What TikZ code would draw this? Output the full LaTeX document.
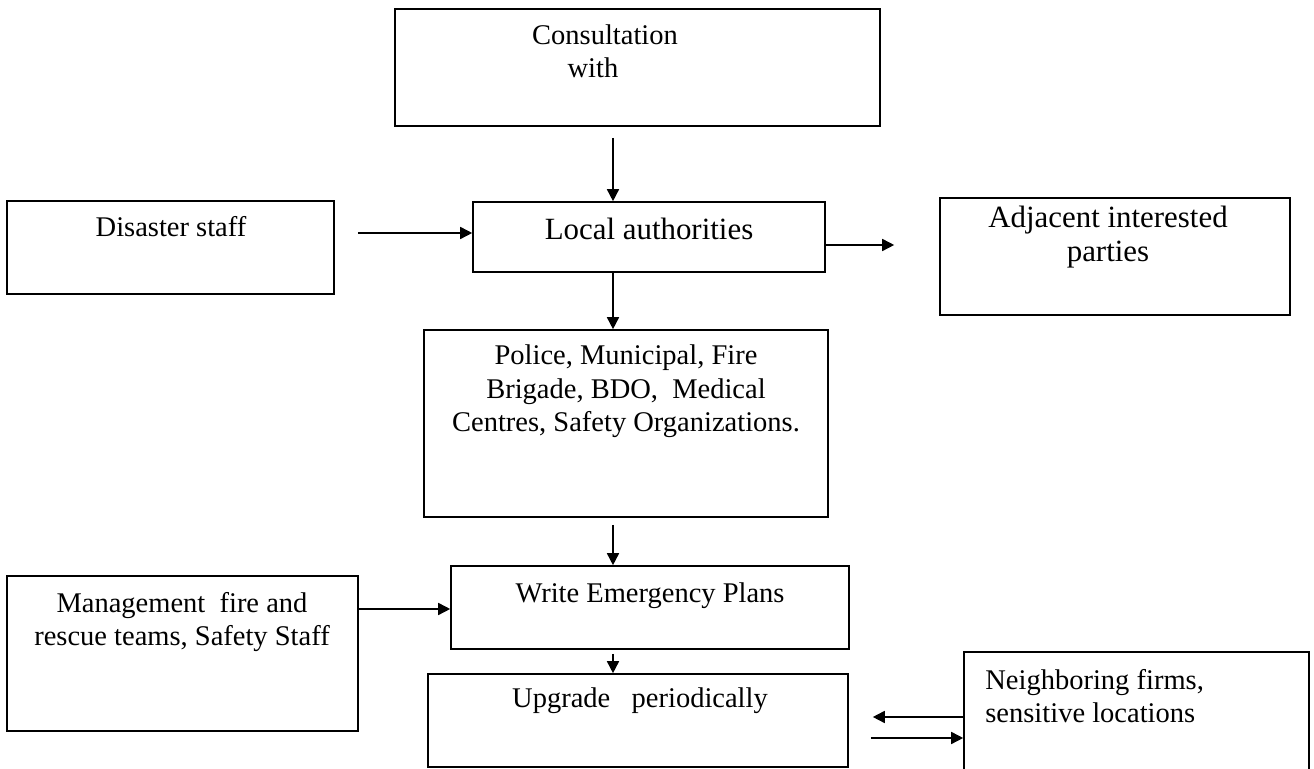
\documentclass[tikz,border=0pt]{standalone}
\usepackage{fontspec}
\setmainfont{Liberation Serif}
\usetikzlibrary{arrows.meta, positioning}
\tikzset{
    box/.style={rectangle, draw=black, line width=0.8pt, inner sep=0pt},
    txt/.style={inner sep=0pt, align=center, font=\fontsize{14.25pt}{16.75pt}\selectfont},
    bigtxt/.style={inner sep=0pt, align=center, font=\fontsize{15.45pt}{17pt}\selectfont},
    arrowline/.style={-{Triangle[length=6pt, width=6pt]}, line width=0.8pt}
}
\begin{document}
\begin{tikzpicture}[x=0.5pt, y=-0.5pt]
  \useasboundingbox (0,0) rectangle (1314,769);
  \fill[white] (0,0) rectangle (1314,769);
  \clip (0,0) rectangle (1314,769);
  \node[box, minimum width=242.5pt, minimum height=58.5pt] (consult) at (637.5,67.5) {};
  \node[box, minimum width=163.5pt, minimum height=46.5pt] (disaster) at (170.5,247.5) {};
  \node[box, minimum width=176pt, minimum height=35pt] (local) at (649,237) {};
  \node[box, minimum width=175pt, minimum height=58.5pt] (adjacent) at (1115,256.5) {};
  \node[box, minimum width=202pt, minimum height=93.5pt] (agencies) at (626,423.5) {};
  \node[box, minimum width=175.5pt, minimum height=77.5pt] (mgmt) at (182.5,653.5) {};
  \node[box, minimum width=199pt, minimum height=41.5pt] (plan) at (650,607.5) {};
  \node[box, minimum width=210pt, minimum height=46.5pt] (upgrade) at (638,720.5) {};
  \node[box, minimum width=172.5pt, minimum height=74pt] (neighbor) at (1136.5,726) {};
  \node[txt, anchor=base] (consult-t) at (605,45) {Consultation};
  \node[txt, anchor=base] (with-t) at (593,78) {with};
  \node[txt, anchor=base] (disaster-t) at (171,237) {Disaster staff};
  \node[bigtxt, anchor=base] (local-t) at (649,240) {Local authorities};
  \node[bigtxt, anchor=base] (adjacent-t) at (1108,262) {Adjacent interested\\parties};
  \node[txt, anchor=base] (agencies-t) at (626,432) {Police, Municipal, Fire\\Brigade, BDO,\ \ Medical\\Centres, Safety Organizations.};
  \node[txt, anchor=base] (mgmt-t) at (182,646) {Management\ \ fire and\\rescue teams, Safety Staff};
  \node[txt, anchor=base] (plan-t) at (650,603) {Write Emergency Plans};
  \node[txt, anchor=base] (upgrade-t) at (640,708) {Upgrade\ \ \ periodically};
  \node[txt, anchor=base west, align=left] (neighbor-t) at (985,723) {Neighboring firms,\\sensitive locations};
  \coordinate (colx) at (613,0);
  \coordinate (rowa) at (0,233);
  \coordinate (rowb) at (0,245);
  \coordinate (rowc) at (0,609);
  \coordinate (rowd) at (0,717);
  \coordinate (rowe) at (0,738);
  \draw[arrowline, shorten <=5.5pt] (consult.south -| colx) -- (local.north -| colx);
  \draw[arrowline] (local.south -| colx) -- (agencies.north -| colx);
  \draw[arrowline, shorten <=3.5pt] (agencies.south -| colx) -- (plan.north -| colx);
  \draw[arrowline, shorten <=2pt] (plan.south -| colx) -- (upgrade.north -| colx);
  \draw[arrowline, shorten <=11.5pt] (disaster.east |- rowa) -- (local.west |- rowa);
  \draw[arrowline, shorten >=22.5pt] (local.east |- rowb) -- (adjacent.west |- rowb);
  \draw[arrowline] (mgmt.east |- rowc) -- (plan.west |- rowc);
  \draw[arrowline, shorten >=12pt] (neighbor.west |- rowd) -- (upgrade.east |- rowd);
  \draw[arrowline, shorten <=11pt] (upgrade.east |- rowe) -- (neighbor.west |- rowe);
\end{tikzpicture}
\end{document}
